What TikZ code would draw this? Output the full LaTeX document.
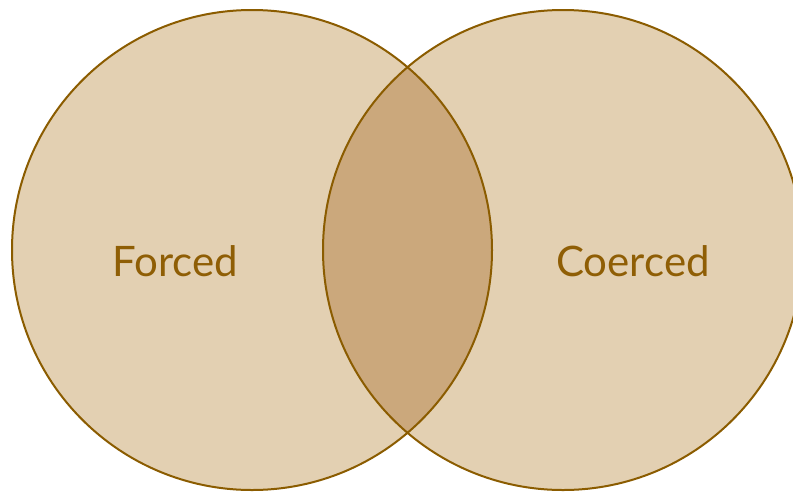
\documentclass[tikz,border=0pt]{standalone}
\usepackage{fontspec}
\setmainfont{Lato}
\usepackage{tikz}
\usetikzlibrary{positioning}
\definecolor{vnfill}{HTML}{E3D0B2}
\definecolor{vnmid}{HTML}{CBA87C}
\definecolor{vnline}{HTML}{8B5C00}
\definecolor{vntext}{HTML}{8F5E05}

\begin{document}
\begin{tikzpicture}[x=1pt,y=-1pt,
  st/.style={draw=vnline,line width=2pt},
  lb/.style={text=vntext,font=\fontsize{42}{50}\selectfont,inner sep=0pt}]
  \useasboundingbox (0,0) rectangle (793,491);
  \clip (0,0) rectangle (793,491);
  \coordinate (fc) at (252,250);
  \coordinate (cc) at (563,250);
  % sets
  \fill[vnfill] (fc) circle[radius=240];
  \fill[vnfill] (cc) circle[radius=240];
  \begin{scope}
    \clip (fc) circle[radius=240];
    \fill[vnmid] (cc) circle[radius=240];
  \end{scope}
  \draw[st] (fc) circle[radius=240];
  \draw[st] (cc) circle[radius=240];
  % labels
  \node[lb] (forced) at (175,261) {Forced};
  \node[lb] (coerced) at (633,261) {Coerced};
\end{tikzpicture}
\end{document}
